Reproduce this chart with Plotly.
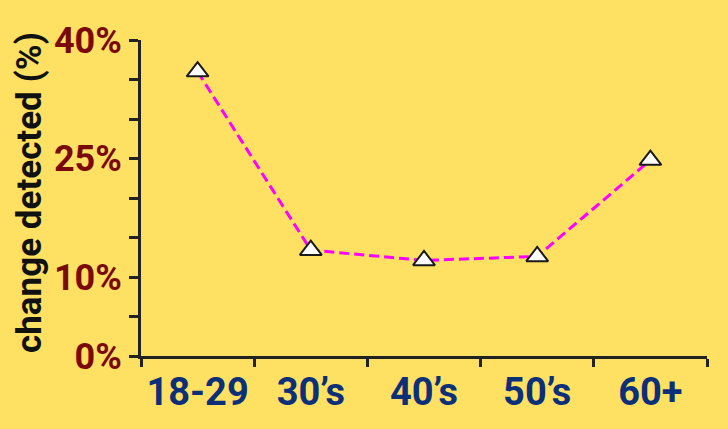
import plotly.graph_objects as go

categories = ["18-29", "30’s", "40’s", "50’s", "60+"]
change_detected = [36.0, 13.4, 12.1, 12.6, 24.8]
y_tick_values = [0, 5, 10, 15, 20, 25, 30, 35, 40]
y_tick_labels = ["0%", "", "10%", "", "", "25%", "", "", "40%"]

FONT = "Roboto, Liberation Sans, sans-serif"
BG = "#FEE162"

fig = go.Figure()
fig.add_trace(go.Scatter(
    x=categories, y=change_detected,
    mode="lines+markers",
    line=dict(color="#FF00FF", width=3, dash="10px,5px"),
    marker=dict(symbol="triangle-up", size=19, color="white",
                line=dict(color="#1a1a1a", width=2)),
    cliponaxis=False,
))

fig.update_layout(
    width=728, height=429,
    paper_bgcolor=BG, plot_bgcolor=BG,
    margin=dict(l=141, r=21, t=40, b=73),
    showlegend=False,
    xaxis=dict(
        type="category", range=[-0.5, 4.5], automargin=False,
        tickson="boundaries", ticks="outside", ticklen=8, tickwidth=3,
        tickcolor="#222222", tickangle=0,
        showline=True, linecolor="#222222", linewidth=3,
        showgrid=False, zeroline=False,
        tickfont=dict(family=FONT, size=38, color="#0B2F78", weight="bold"),
    ),
    yaxis=dict(
        range=[0, 40], tickmode="array", automargin=False,
        tickvals=y_tick_values, ticktext=y_tick_labels,
        ticks="outside", ticklen=9, tickwidth=3, tickcolor="#222222",
        showline=True, linecolor="#222222", linewidth=3,
        showgrid=False, zeroline=False,
        tickfont=dict(family=FONT, size=36, color="#7A0A0A", weight="bold"),
    ),
    annotations=[dict(
        text="change detected (%)", textangle=-90,
        xref="paper", yref="paper",
        x=(29 - 141) / 566, y=(356 - 193) / 316,
        xanchor="center", yanchor="middle", showarrow=False,
        font=dict(family=FONT, size=35, color="#111111", weight="bold"),
    )],
)

fig.write_html("out.html", config={"displayModeBar": False},
               post_script="document.body.style.margin='0';")
